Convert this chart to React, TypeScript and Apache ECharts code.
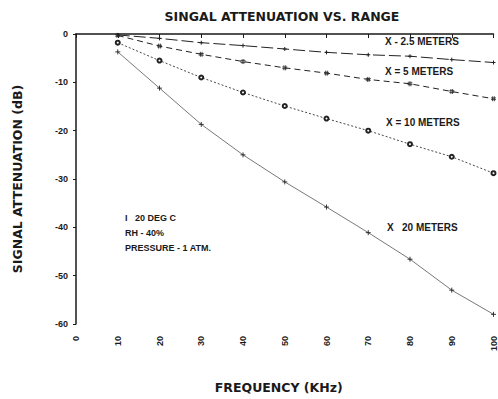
import React, { useEffect, useRef } from "react";
import * as echarts from "echarts";

const frequencies = [10, 20, 30, 40, 50, 60, 70, 80, 90, 100];
const att2_5m = [-0.2, -0.9, -1.8, -2.4, -3.1, -3.8, -4.3, -4.6, -5.3, -5.9];
const att5m = [-0.3, -2.5, -4.2, -5.7, -7.0, -8.1, -9.4, -10.3, -11.9, -13.4];
const att10m = [-1.8, -5.5, -9.0, -12.1, -14.9, -17.5, -20.0, -22.8, -25.4, -28.8];
const att20m = [-3.7, -11.2, -18.7, -25.0, -30.6, -35.8, -41.1, -46.6, -53.0, -58.0];

const seriesNames = ["X - 2.5 METERS", "X = 5 METERS", "X = 10 METERS", "X   20 METERS"];
const conditions = ["I   20 DEG C", "RH - 40%", "PRESSURE - 1 ATM."];

const FONT = "'Liberation Sans', Arial, sans-serif";
const WIDE = "'DejaVu Sans', 'Liberation Sans', sans-serif";
const INK = "#1a1a1a";

const plusSym = "path://M0 5H10M5 0V10";
const hashSym = "path://M3.3 0V10M6.7 0V10M0 3.3H10M0 6.7H10";

function pairs(vals: number[]) {
  return frequencies.map((f, i) => [f, vals[i]]);
}

export default function App() {
  const ref = useRef<HTMLDivElement>(null);
  useEffect(() => {
    if (!ref.current) return;
    const chart = echarts.init(ref.current, null, { renderer: "svg" });
    const textStyle = { fontFamily: FONT, fontWeight: "bold" as const, fill: INK };
    chart.setOption({
      animation: false,
      backgroundColor: "#ffffff",
      title: {
        text: "SINGAL ATTENUATION VS. RANGE",
        left: 277,
        top: 5,
        textAlign: "center",
        textStyle: { fontFamily: WIDE, fontWeight: "bold", fontSize: 12.5, color: INK },
      },
      grid: { left: 76, right: 2, top: 34, bottom: 75, containLabel: false },
      xAxis: {
        type: "value",
        min: 0,
        max: 100,
        interval: 10,
        name: "FREQUENCY (KHz)",
        nameLocation: "middle",
        nameGap: 57,
        nameTextStyle: { fontFamily: WIDE, fontWeight: "bold", fontSize: 12.5, color: INK, padding: [0, 12, 0, 0] },
        axisLine: { lineStyle: { color: INK, width: 1.5 } },
        axisTick: { show: true, length: 4, lineStyle: { color: INK, width: 1 } },
        axisLabel: { rotate: 90, margin: 12, fontFamily: FONT, fontWeight: "bold", fontSize: 9, color: INK },
        splitLine: { show: false },
      },
      yAxis: {
        type: "value",
        min: -60,
        max: 0,
        interval: 10,
        name: "SIGNAL ATTENUATION (dB)",
        nameLocation: "middle",
        nameGap: 52,
        nameRotate: 90,
        nameTextStyle: { fontFamily: WIDE, fontWeight: "bold", fontSize: 12.5, color: INK },
        axisLine: { show: true, lineStyle: { color: INK, width: 1.5 } },
        axisTick: { show: true, length: 3, lineStyle: { color: INK, width: 1 } },
        axisLabel: { margin: 8, fontFamily: FONT, fontWeight: "bold", fontSize: 9, color: INK },
        splitLine: { show: false },
      },
      series: [
        {
          name: seriesNames[0],
          type: "line",
          data: pairs(att2_5m),
          symbol: plusSym,
          symbolSize: 4,
          clip: false,
          lineStyle: { color: "#222", width: 1, type: [12, 4] },
          itemStyle: { color: "#222", borderColor: "#222", borderWidth: 1 },
        },
        {
          name: seriesNames[1],
          type: "line",
          data: pairs(att5m),
          symbol: hashSym,
          symbolSize: 5,
          clip: false,
          lineStyle: { color: "#222", width: 1, type: [6, 4] },
          itemStyle: { color: "#222", borderColor: "#222", borderWidth: 0.8 },
        },
        {
          name: seriesNames[2],
          type: "line",
          data: pairs(att10m),
          symbol: "emptyCircle",
          symbolSize: 4,
          clip: false,
          lineStyle: { color: "#333", width: 0.9, type: [2, 2] },
          itemStyle: { color: "#222", borderColor: "#222", borderWidth: 1 },
        },
        {
          name: seriesNames[3],
          type: "line",
          data: pairs(att20m),
          symbol: plusSym,
          symbolSize: 5,
          clip: false,
          lineStyle: { color: "#555", width: 0.8 },
          itemStyle: { color: "#222", borderColor: "#222", borderWidth: 0.9 },
        },
      ],
      graphic: [
        { type: "text", left: 385, top: 36, style: { ...textStyle, text: seriesNames[0], fontSize: 10 } },
        { type: "text", left: 385, top: 66, style: { ...textStyle, text: seriesNames[1], fontSize: 10 } },
        { type: "text", left: 386, top: 117, style: { ...textStyle, text: seriesNames[2], fontSize: 10 } },
        { type: "text", left: 387, top: 222, style: { ...textStyle, text: seriesNames[3], fontSize: 10 } },
        { type: "text", left: 125, top: 213, style: { ...textStyle, text: conditions[0], fontSize: 9 } },
        { type: "text", left: 125, top: 228, style: { ...textStyle, text: conditions[1], fontSize: 9 } },
        { type: "text", left: 125, top: 243, style: { ...textStyle, text: conditions[2], fontSize: 9 } },
      ],
    });
    return () => chart.dispose();
  }, []);
  return (
    <div
      ref={ref}
      style={{ position: "fixed", left: 0, top: 0, width: 498, height: 399, background: "#fff" }}
    />
  );
}
